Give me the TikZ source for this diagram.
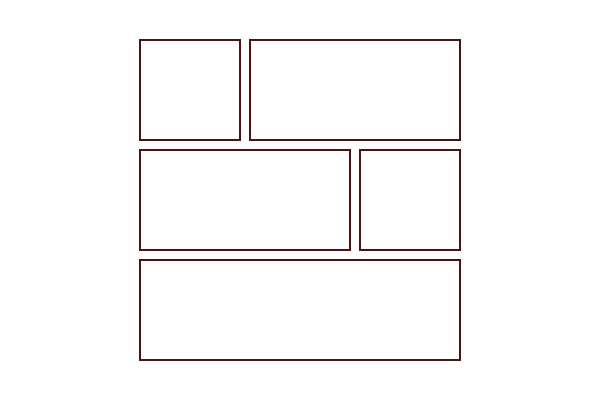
\documentclass[tikz,border=0pt]{standalone}
\definecolor{boxc}{HTML}{4A1414}
\begin{document}
\begin{tikzpicture}[x=1pt,y=-1pt,
  panel/.style={draw=boxc,line width=2pt,inner sep=0pt,outer sep=0pt,rectangle}]
\useasboundingbox[fill=white] (0,0) rectangle (600,400);
\node[panel,minimum width=100pt,minimum height=100pt] (a) at (190,90) {};
\node[panel,minimum width=210pt,minimum height=100pt] (b) at (355,90) {};
\node[panel,minimum width=210pt,minimum height=100pt] (c) at (245,200) {};
\node[panel,minimum width=100pt,minimum height=100pt] (d) at (410,200) {};
\node[panel,minimum width=320pt,minimum height=100pt] (e) at (300,310) {};
\end{tikzpicture}
\end{document}
